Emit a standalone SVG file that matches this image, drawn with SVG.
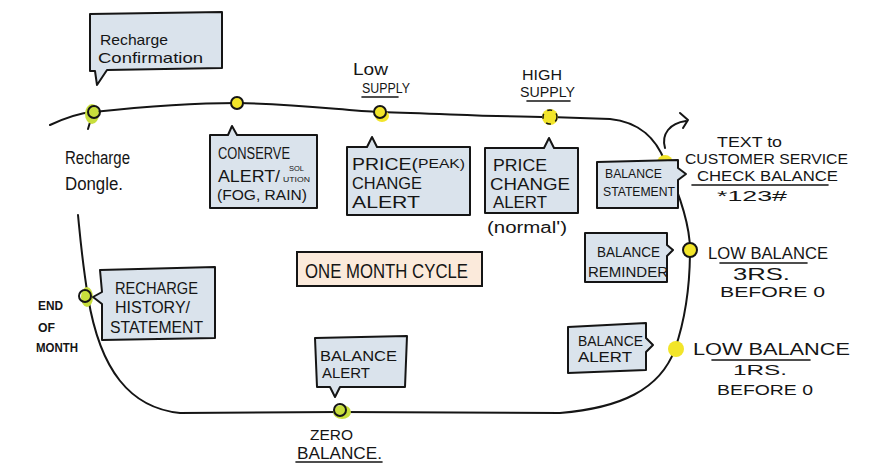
<svg xmlns="http://www.w3.org/2000/svg" width="876" height="463" viewBox="0 0 876 463">
<style>
.t{font-family:"Liberation Sans",Arial,sans-serif;fill:#151515}
.box{fill:#dae3ec;stroke:#151515;stroke-width:2;stroke-linejoin:round}
.peach{fill:#fbeadb;stroke:#151515;stroke-width:2}
.line{fill:none;stroke:#151515;stroke-width:2;stroke-linecap:round;stroke-linejoin:round}
.ul{fill:none;stroke:#151515;stroke-width:1.6;stroke-linecap:round}
.dot{fill:#f2e52a;stroke:#151515;stroke-width:2}
.glow{fill:#f2e52a}
.green{fill:#c8de3c}
</style>
<rect width="876" height="463" fill="#ffffff"/>

<g id="connectors">
  <path class="line" d="M50,125 C65,118 80,113 93,112 C150,106 200,103 237,103 C300,104 340,110 380,112 C450,114 500,117 550,117 L610,119 C640,122 657,140 665,162 C680,195 690,225 690,250 C690,290 685,320 675,349 C660,390 620,408 560,413 L340,412 L180,413 C130,408 100,370 88,297 C82,260 80,235 78,215"/>
  <path class="line" d="M93,112 L88,129"/>
  <path class="line" d="M665,148 C661,134 670,123 686,121"/>
  <path class="line" d="M680,113 L688,120 L683,128"/>
</g>

<g id="pt-dongle">
  <ellipse class="green" cx="92" cy="114" rx="7" ry="10"/>
  <circle cx="94" cy="112" r="6" fill="none" stroke="#151515" stroke-width="2"/>
  <text class="t" x="65" y="164" font-size="18" textLength="65" lengthAdjust="spacingAndGlyphs">Recharge</text>
  <text class="t" x="65" y="190" font-size="18" textLength="58" lengthAdjust="spacingAndGlyphs">Dongle.</text>
</g>
<g id="pt-conserve"><circle class="dot" cx="237" cy="103" r="6"/></g>
<g id="pt-low-supply">
  <ellipse class="glow" cx="382" cy="116" rx="7" ry="6"/>
  <circle class="dot" cx="380" cy="112" r="6"/>
  <text class="t" x="353" y="75" font-size="17" textLength="35" lengthAdjust="spacingAndGlyphs">Low</text>
  <text class="t" x="362" y="93" font-size="14" textLength="48" lengthAdjust="spacingAndGlyphs">SUPPLY</text>
  <path class="ul" d="M362,97 L398,97"/>
</g>
<g id="pt-high-supply">
  <circle class="glow" cx="550" cy="117" r="8"/>
  <circle cx="550" cy="117" r="7" fill="none" stroke="#151515" stroke-width="1.5" stroke-dasharray="5 5"/>
  <text class="t" x="522" y="80" font-size="14" textLength="40" lengthAdjust="spacingAndGlyphs">HIGH</text>
  <text class="t" x="520" y="97" font-size="14" textLength="55" lengthAdjust="spacingAndGlyphs">SUPPLY</text>
  <path class="ul" d="M527,101 L570,101"/>
</g>
<g id="pt-check-balance">
  <circle class="glow" cx="665" cy="163" r="8"/>
  <text class="t" x="717" y="147" font-size="14" textLength="65" lengthAdjust="spacingAndGlyphs">TEXT to</text>
  <text class="t" x="685" y="164" font-size="14" textLength="163" lengthAdjust="spacingAndGlyphs">CUSTOMER SERVICE</text>
  <text class="t" x="697" y="181" font-size="14" textLength="141" lengthAdjust="spacingAndGlyphs">CHECK BALANCE</text>
  <path class="ul" d="M692,185 L828,185"/>
  <text class="t" x="717" y="201" font-size="14" textLength="70" lengthAdjust="spacingAndGlyphs">*123#</text>
</g>
<g id="pt-low-balance-3">
  <circle class="dot" cx="690" cy="250" r="7"/>
  <text class="t" x="708" y="259" font-size="17" textLength="120" lengthAdjust="spacingAndGlyphs">LOW BALANCE</text>
  <path class="ul" d="M720,263 L807,263"/>
  <text class="t" x="733" y="280" font-size="17" textLength="57" lengthAdjust="spacingAndGlyphs">3RS.</text>
  <text class="t" x="720" y="297" font-size="15" textLength="105" lengthAdjust="spacingAndGlyphs">BEFORE 0</text>
</g>
<g id="pt-low-balance-1">
  <circle class="glow" cx="676" cy="349" r="8"/>
  <text class="t" x="693" y="355" font-size="17" textLength="157" lengthAdjust="spacingAndGlyphs">LOW BALANCE</text>
  <path class="ul" d="M712,360 L810,360"/>
  <text class="t" x="733" y="375" font-size="15" textLength="54" lengthAdjust="spacingAndGlyphs">1RS.</text>
  <text class="t" x="717" y="395" font-size="15" textLength="96" lengthAdjust="spacingAndGlyphs">BEFORE 0</text>
</g>
<g id="pt-zero-balance">
  <ellipse class="green" cx="342" cy="412" rx="9" ry="7"/>
  <circle cx="340" cy="410" r="6" fill="none" stroke="#151515" stroke-width="2"/>
  <text class="t" x="310" y="440" font-size="15" textLength="43" lengthAdjust="spacingAndGlyphs">ZERO</text>
  <text class="t" x="297" y="459" font-size="16" textLength="85" lengthAdjust="spacingAndGlyphs">BALANCE.</text>
  <path class="ul" d="M296,462 L382,462"/>
</g>
<g id="pt-end-of-month">
  <ellipse class="green" cx="87" cy="297" rx="6" ry="10"/>
  <circle cx="85" cy="296" r="6" fill="none" stroke="#151515" stroke-width="2"/>
  <text class="t" x="38" y="310" font-size="13" font-weight="bold" textLength="25" lengthAdjust="spacingAndGlyphs">END</text>
  <text class="t" x="38" y="332" font-size="13" font-weight="bold" textLength="17" lengthAdjust="spacingAndGlyphs">OF</text>
  <text class="t" x="36" y="352" font-size="13" font-weight="bold" textLength="42" lengthAdjust="spacingAndGlyphs">MONTH</text>
</g>

<g id="recharge-confirmation">
  <path class="box" d="M90,14 L222,12 L222,68 L107,70 L97,85 L95,71 L90,71 Z"/>
  <text class="t" x="100" y="45" font-size="15" textLength="68" lengthAdjust="spacingAndGlyphs">Recharge</text>
  <text class="t" x="98" y="63" font-size="15" textLength="105" lengthAdjust="spacingAndGlyphs">Confirmation</text>
</g>
<g id="conserve-alert">
  <path class="box" d="M210,135 L228,135 L232,126 L237,135 L317,135 L317,208 L210,208 Z"/>
  <text class="t" x="218" y="159" font-size="16" textLength="72" lengthAdjust="spacingAndGlyphs">CONSERVE</text>
  <text class="t" x="218" y="182" font-size="16" textLength="62" lengthAdjust="spacingAndGlyphs">ALERT/</text>
  <text class="t" x="289" y="171" font-size="8" textLength="15" lengthAdjust="spacingAndGlyphs">SOL</text>
  <text class="t" x="283" y="182" font-size="8" textLength="27" lengthAdjust="spacingAndGlyphs">UTION</text>
  <text class="t" x="217" y="200" font-size="14" textLength="90" lengthAdjust="spacingAndGlyphs">(FOG, RAIN)</text>
</g>
<g id="price-peak-alert">
  <path class="box" d="M347,147 L367,147 L372,137 L377,147 L470,147 L470,215 L347,215 Z"/>
  <text class="t" x="352" y="170" font-size="17" textLength="66" lengthAdjust="spacingAndGlyphs">PRICE(</text>
  <text class="t" x="418" y="168" font-size="12" textLength="47" lengthAdjust="spacingAndGlyphs">PEAK)</text>
  <text class="t" x="352" y="189" font-size="17" textLength="70" lengthAdjust="spacingAndGlyphs">CHANGE</text>
  <text class="t" x="352" y="208" font-size="17" textLength="68" lengthAdjust="spacingAndGlyphs">ALERT</text>
</g>
<g id="price-normal-alert">
  <path class="box" d="M485,148 L544,148 L549,138 L554,148 L578,148 L578,213 L485,213 Z"/>
  <text class="t" x="493" y="171" font-size="17" textLength="54" lengthAdjust="spacingAndGlyphs">PRICE</text>
  <text class="t" x="490" y="190" font-size="17" textLength="80" lengthAdjust="spacingAndGlyphs">CHANGE</text>
  <text class="t" x="493" y="208" font-size="17" textLength="54" lengthAdjust="spacingAndGlyphs">ALERT</text>
  <text class="t" x="487" y="233" font-size="16" textLength="80" lengthAdjust="spacingAndGlyphs">(normal')</text>
</g>
<g id="balance-statement">
  <path class="box" d="M597,162 L678,160 L678,168 L686,174 L678,180 L678,208 L597,208 Z"/>
  <text class="t" x="605" y="178" font-size="13" textLength="57" lengthAdjust="spacingAndGlyphs">BALANCE</text>
  <text class="t" x="603" y="196" font-size="13" textLength="72" lengthAdjust="spacingAndGlyphs">STATEMENT</text>
</g>
<g id="balance-reminder">
  <path class="box" d="M585,233 L667,233 L667,245 L673,250 L667,256 L667,282 L585,282 Z"/>
  <text class="t" x="597" y="257" font-size="14" textLength="63" lengthAdjust="spacingAndGlyphs">BALANCE</text>
  <text class="t" x="588" y="277" font-size="14" textLength="80" lengthAdjust="spacingAndGlyphs">REMINDER</text>
</g>
<g id="balance-alert-right">
  <path class="box" d="M568,327 L646,323 L646,338 L653,345 L646,352 L646,370 L568,373 Z"/>
  <text class="t" x="578" y="346" font-size="14" textLength="65" lengthAdjust="spacingAndGlyphs">BALANCE</text>
  <text class="t" x="578" y="362" font-size="14" textLength="54" lengthAdjust="spacingAndGlyphs">ALERT</text>
</g>
<g id="recharge-history">
  <path class="box" d="M100,270 L215,267 L215,338 L102,340 L102,304 L93,297 L102,292 Z"/>
  <text class="t" x="115" y="294" font-size="16" textLength="83" lengthAdjust="spacingAndGlyphs">RECHARGE</text>
  <text class="t" x="115" y="313" font-size="16" textLength="75" lengthAdjust="spacingAndGlyphs">HISTORY/</text>
  <text class="t" x="110" y="333" font-size="16" textLength="93" lengthAdjust="spacingAndGlyphs">STATEMENT</text>
</g>
<g id="balance-alert-bottom">
  <path class="box" d="M315,338 L407,336 L405,387 L340,387 L335,397 L330,387 L317,387 Z"/>
  <text class="t" x="320" y="361" font-size="15" textLength="77" lengthAdjust="spacingAndGlyphs">BALANCE</text>
  <text class="t" x="322" y="378" font-size="15" textLength="48" lengthAdjust="spacingAndGlyphs">ALERT</text>
</g>
<g id="one-month-cycle">
  <rect class="peach" x="297" y="252" width="185" height="34"/>
  <text class="t" x="305" y="278" font-size="20" textLength="163" lengthAdjust="spacingAndGlyphs">ONE MONTH CYCLE</text>
</g>
</svg>
